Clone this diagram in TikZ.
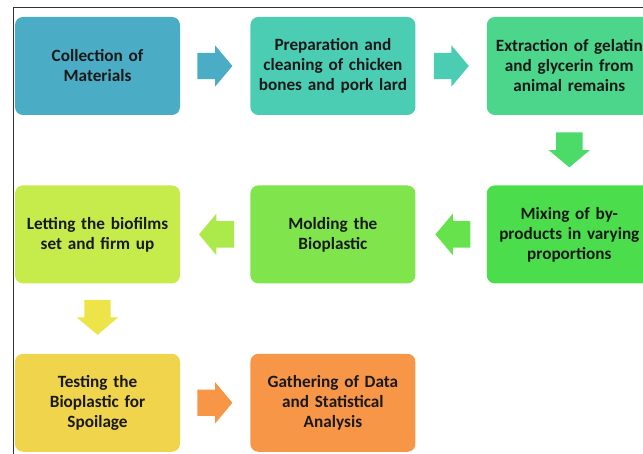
\documentclass[tikz,border=0pt]{standalone}
\usepackage{fontspec}
\setmainfont{Carlito}
\usetikzlibrary{positioning,calc,shapes.arrows}

\definecolor{boxA}{RGB}{75,172,198}
\definecolor{boxB}{RGB}{75,205,180}
\definecolor{boxC}{RGB}{76,214,140}
\definecolor{boxD}{RGB}{76,221,76}
\definecolor{boxE}{RGB}{128,228,76}
\definecolor{boxF}{RGB}{198,236,76}
\definecolor{boxG}{RGB}{240,212,76}
\definecolor{boxH}{RGB}{247,150,70}
\definecolor{arrC}{RGB}{76,218,104}
\definecolor{arrD}{RGB}{102,226,76}
\definecolor{arrE}{RGB}{172,234,76}
\definecolor{arrF}{RGB}{236,228,72}

\tikzset{
  phase/.style={rounded corners=8pt, minimum width=165pt, minimum height=98pt,
    text width=160pt, align=center, inner sep=0pt, text=black!90,
    font=\bfseries\fontsize{17.2}{20}\selectfont},
  blockarrow/.style={single arrow, inner xsep=0pt, inner ysep=13pt, minimum height=35pt,
    single arrow head extend=7.5pt, single arrow tip angle=100, anchor=tail}
}

\begin{document}
\begin{tikzpicture}[x=1pt,y=1pt]
  \useasboundingbox (0,0) rectangle (643,-454);
  \draw [black!80, line width=0.8pt] (13,-454) |- (643,-7);

  \node [phase, fill=boxA] (collect) at (97.5,-66) {Collection of\\Materials};
  \node [phase, fill=boxB, right=70pt of collect] (prep) {Preparation and\\cleaning of chicken\\bones and pork lard};
  \node [phase, fill=boxC, right=71pt of prep] (extract) {Extraction of gelatin\\and glycerin from\\animal remains};
  \node [phase, fill=boxD, below=70pt of extract] (mix) {Mixing of by-\\products in varying\\proportions};
  \node [phase, fill=boxE, left=71pt of mix] (mold) {Molding the\\Bioplastic};
  \node [phase, fill=boxF, left=70pt of mold] (setfirm) {Letting the biofilms\\set and firm up};
  \node [phase, fill=boxG, below=70pt of setfirm] (test) {Testing the\\Bioplastic for\\Spoilage};
  \node [phase, fill=boxH, right=70pt of test] (gather) {Gathering of Data\\and Statistical\\Analysis};

  \node [blockarrow, fill=boxA] at ($(collect.east)+(17,0)$) {};
  \node [blockarrow, fill=boxB] at ($(prep.east)+(18,0)$) {};
  \node [blockarrow, fill=arrC, rotate=270] at ($(extract.south)+(0,-17)$) {};
  \node [blockarrow, fill=arrD, rotate=180] at ($(mix.west)+(-16,0)$) {};
  \node [blockarrow, fill=arrE, rotate=180] at ($(mold.west)+(-16,0)$) {};
  \node [blockarrow, fill=arrF, rotate=270] at ($(setfirm.south)+(0,-16)$) {};
  \node [blockarrow, fill=boxH] at ($(test.east)+(17,0)$) {};

\end{tikzpicture}
\end{document}
